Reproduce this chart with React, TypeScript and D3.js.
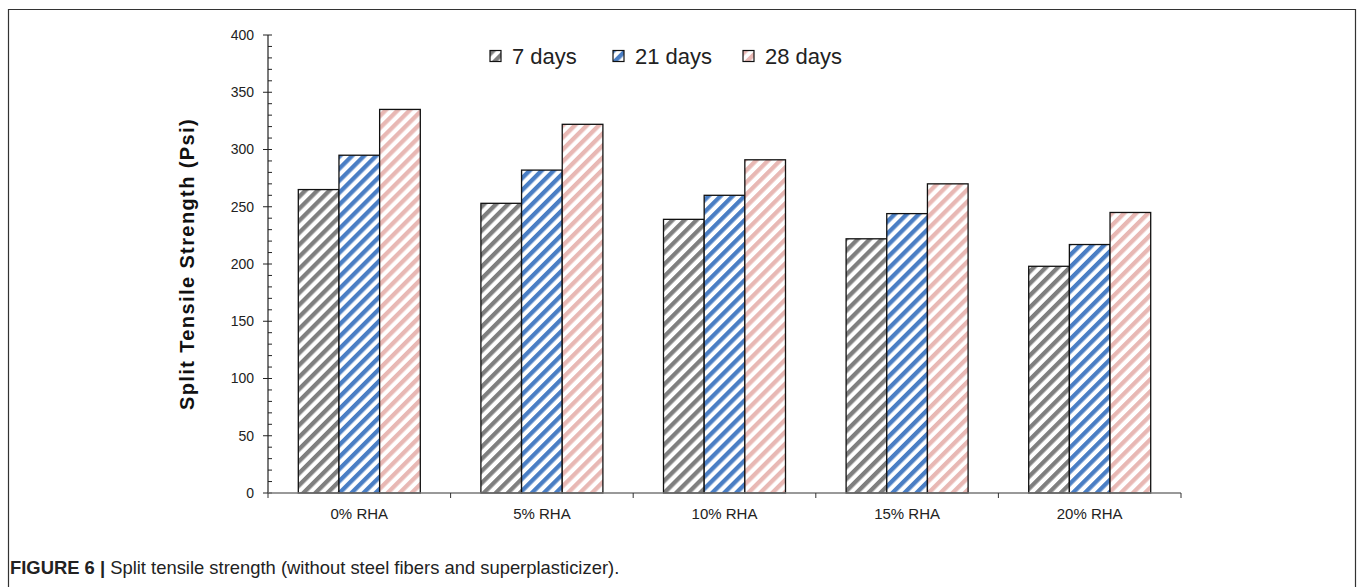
import React, { useEffect, useRef } from "react";
import * as d3 from "d3";

const categories = ["0% RHA", "5% RHA", "10% RHA", "15% RHA", "20% RHA"];
const seriesNames = ["7 days", "21 days", "28 days"];
const days7 = [265, 253, 239, 222, 198];
const days21 = [295, 282, 260, 244, 217];
const days28 = [335, 322, 291, 270, 245];
const yTicks = [0, 50, 100, 150, 200, 250, 300, 350, 400];
const seriesColors = ["#7f7f7f", "#4a7ec4", "#e8b8b4"];

export default function App() {
  const ref = useRef<SVGSVGElement>(null);
  useEffect(() => {
    const svg = d3.select(ref.current);
    svg.selectAll("*").remove();
    const W = 1358, H = 587;
    const left = 268, right = 1181, top = 35, bottom = 493;
    const font = "'Liberation Sans', Arial, sans-serif";

    // frame
    svg.append("path").attr("d", `M8.5,${H + 5} V9.5 H1355.5 V${H + 5}`)
      .attr("fill", "none").attr("stroke", "#333").attr("stroke-width", 1.2);

    const defs = svg.append("defs");
    seriesColors.forEach((c, i) => {
      const p = defs.append("pattern").attr("id", "pat" + i)
        .attr("patternUnits", "userSpaceOnUse").attr("width", 8.5).attr("height", 8.5)
        .attr("patternTransform", "rotate(45)");
      p.append("rect").attr("width", 8.5).attr("height", 8.5).attr("fill", "#fff");
      p.append("rect").attr("width", 4.3).attr("height", 8.5).attr("fill", c);
    });

    const x0 = d3.scaleBand<string>().domain(categories).range([left, right]).paddingInner(0).paddingOuter(0);
    const groupW = x0.bandwidth() * (122 / 182.6);
    const x1 = d3.scaleBand<string>().domain(seriesNames).range([0, groupW]).padding(0);
    const y = d3.scaleLinear().domain([0, 400]).range([bottom, top]);

    const data = [days7, days21, days28];
    const g = svg.append("g");
    categories.forEach((cat, ci) => {
      const gx = (x0(cat) as number) + (x0.bandwidth() - groupW) / 2;
      seriesNames.forEach((s, si) => {
        const v = data[si][ci];
        g.append("rect")
          .attr("x", gx + (x1(s) as number))
          .attr("y", y(v))
          .attr("width", x1.bandwidth())
          .attr("height", y(0) - y(v))
          .attr("fill", `url(#pat${si})`)
          .attr("stroke", "#111").attr("stroke-width", 1.3);
      });
    });

    // y axis
    const ya = svg.append("g");
    ya.append("line").attr("x1", left).attr("x2", left).attr("y1", top).attr("y2", bottom)
      .attr("stroke", "#222").attr("stroke-width", 1.2);
    d3.range(0, 401, 10).forEach((v) => {
      const major = v % 50 === 0;
      ya.append("line").attr("x1", major ? left - 5 : left).attr("x2", left + 4)
        .attr("y1", y(v)).attr("y2", y(v)).attr("stroke", "#222").attr("stroke-width", 1);
    });
    yTicks.forEach((v) => {
      ya.append("text").attr("x", 254).attr("y", y(v)).attr("dy", "0.35em")
        .attr("text-anchor", "end").attr("font-family", font).attr("font-size", 14)
        .attr("fill", "#222").text(v);
    });

    // x axis
    const xa = svg.append("g");
    xa.append("line").attr("x1", left).attr("x2", right).attr("y1", bottom).attr("y2", bottom)
      .attr("stroke", "#777").attr("stroke-width", 1.5);
    [...categories.map((c) => x0(c) as number), right].forEach((xx) => {
      xa.append("line").attr("x1", xx).attr("x2", xx).attr("y1", bottom).attr("y2", bottom + 5)
        .attr("stroke", "#333").attr("stroke-width", 1);
    });
    categories.forEach((c) => {
      xa.append("text").attr("x", (x0(c) as number) + x0.bandwidth() / 2).attr("y", 519)
        .attr("text-anchor", "middle").attr("font-family", font).attr("font-size", 15)
        .attr("fill", "#222").text(c);
    });

    // y label
    svg.append("text").attr("transform", `translate(194,264) rotate(-90)`)
      .attr("text-anchor", "middle").attr("font-family", font).attr("font-size", 20)
      .attr("letter-spacing", 1.4)
      .attr("font-weight", "bold").attr("fill", "#111").text("Split Tensile Strength (Psi)");

    // legend
    const legX = [490, 613, 743];
    seriesNames.forEach((s, i) => {
      svg.append("rect").attr("x", legX[i]).attr("y", 50.5).attr("width", 11).attr("height", 11)
        .attr("fill", `url(#pat${i})`).attr("stroke", "#111").attr("stroke-width", 1.2);
      svg.append("text").attr("x", legX[i] + 22).attr("y", 64).attr("font-family", font)
        .attr("font-size", 22).attr("fill", "#222").text(s);
    });

    // caption
    const cap = svg.append("text").attr("x", 10).attr("y", 574).attr("font-family", font)
      .attr("font-size", 18.4).attr("fill", "#222");
    cap.append("tspan").attr("font-weight", "bold").text("FIGURE 6 | ");
    cap.append("tspan").text("Split tensile strength (without steel fibers and superplasticizer).");
  }, []);
  return (
    <svg ref={ref} width={1358} height={587}
      style={{ position: "absolute", left: 0, top: 0, background: "#fff" }} />
  );
}
